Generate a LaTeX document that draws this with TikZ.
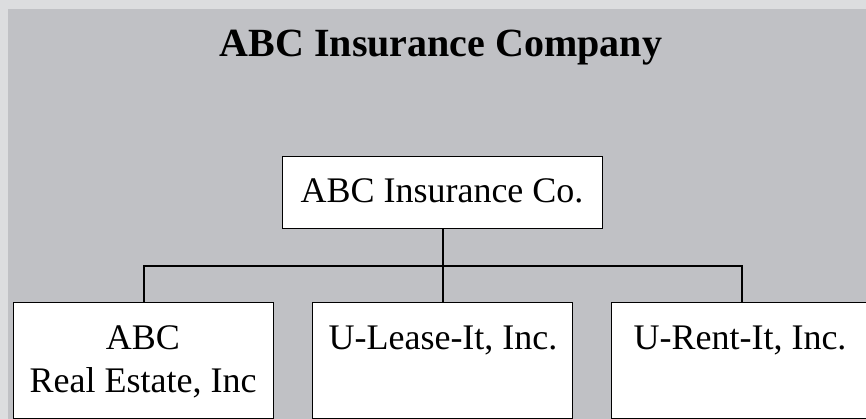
\documentclass[tikz,border=0pt]{standalone}
\usepackage{fontspec}
\setmainfont{Liberation Serif}
\definecolor{outerbg}{RGB}{220,221,223}
\definecolor{innerbg}{RGB}{192,193,197}
\begin{document}
\begin{tikzpicture}[x=1pt,y=-1pt,
  box/.style={draw=black, fill=white, line width=1.3pt, rectangle, inner sep=0pt, anchor=north west},
  lbl/.style={inner sep=0pt, font=\fontsize{36}{43}\selectfont, anchor=base},
  conn/.style={draw=black, line width=2.8pt}]
\useasboundingbox (0,0) rectangle (866,419);
\clip (0,0) rectangle (866,419);
\fill[outerbg] (0,0) rectangle (866,419);
\fill[innerbg] (8,9) rectangle (880,430);
\node[inner sep=0pt, anchor=base, font=\fontsize{40}{48}\selectfont\bfseries] (title) at (441,57) {ABC Insurance Company};
% boxes
\node[box, minimum width=320, minimum height=72] (top) at (282,156) {};
\node[box, minimum width=260, minimum height=115.5] (re) at (13,302) {};
\node[box, minimum width=260, minimum height=115.5] (ul) at (312,302) {};
\node[box, minimum width=260, minimum height=115.5] (ur) at (611,302) {};
% labels
\node[lbl] (topT) at (442,203) {ABC Insurance Co.};
\node[lbl] (reT1) at (143,349) {ABC};
\node[lbl] (reT2) at (143,392) {Real Estate, Inc};
\node[lbl] (ulT) at (443,349) {U-Lease-It, Inc.};
\node[lbl] (urT) at (740,349) {U-Rent-It, Inc.};
% connectors
\coordinate (bar) at (443,266);
\coordinate (rn) at (742,302);
\coordinate (ln) at (144,302);
\draw[conn] (top.south -| bar) -- (bar);
\draw[conn] (ln) -- (ln |- bar) -- (rn |- bar) -- (rn);
\draw[conn] (bar) -- (ul.north -| bar);
\end{tikzpicture}
\end{document}
